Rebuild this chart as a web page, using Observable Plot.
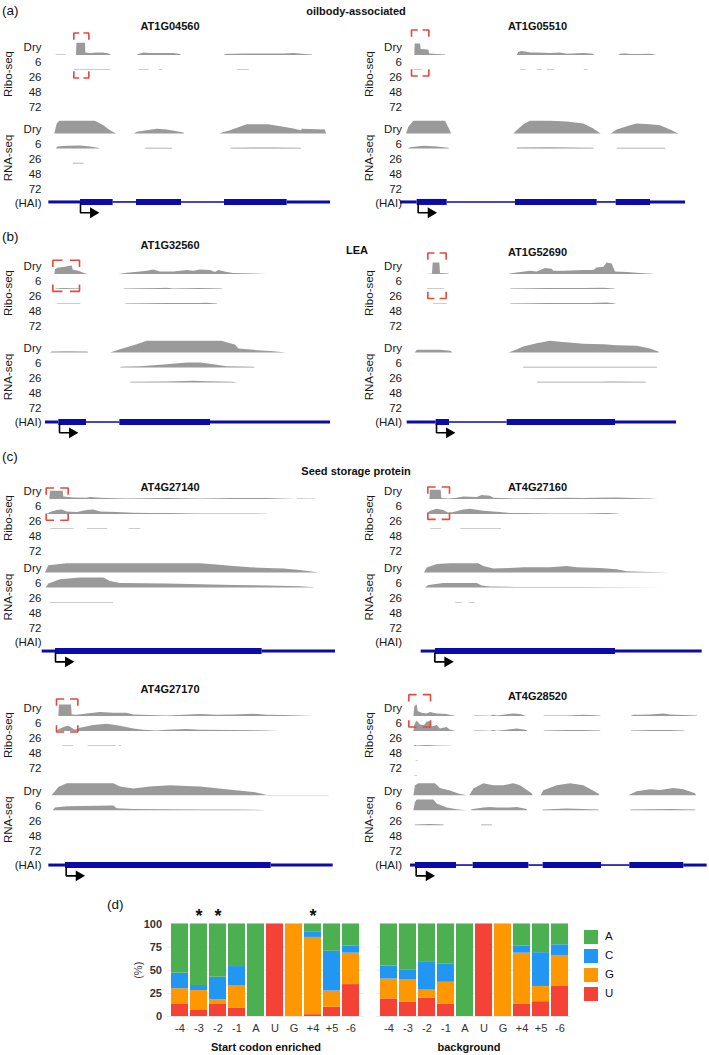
<!DOCTYPE html>
<html><head><meta charset="utf-8">
<script src="https://cdn.jsdelivr.net/npm/d3@7"></script>
<script src="https://cdn.jsdelivr.net/npm/@observablehq/plot@0.6"></script>
<style>
body{margin:0;background:#fff;font-family:"Liberation Sans",Arial,sans-serif;}
#root{position:relative;width:709px;height:1055px;overflow:hidden;background:#fff;}
.pl{position:absolute;}
.lab{position:absolute;white-space:nowrap;color:#111;line-height:1;}
</style></head><body><div id="root"></div>
<script>
// ---------------- DATA ----------------
const geneIds = ["AT1G04560","AT1G05510","AT1G32560","AT1G52690","AT4G27140","AT4G27160","AT4G27170","AT4G28520"];
const timePoints = ["Dry","6","26","48","72"];
const assayNames = ["Ribo-seq","RNA-seq"];
const sectionTitles = ["oilbody-associated","LEA","Seed storage protein"];
const panelLetters = ["(a)","(b)","(c)","(d)"];

// gene models: [start, end, feature] in relative genomic units
const modelAT1G04560 = [[145,240,"UTR"],[240,338,"CDS"],[338,408,"intron"],[408,543,"CDS"],[543,672,"intron"],[672,860,"CDS"],[860,990,"UTR"]];
const modelAT1G05510 = [[150,200,"UTR"],[200,290,"CDS"],[290,495,"intron"],[495,740,"CDS"],[740,797,"intron"],[797,900,"CDS"],[900,1005,"UTR"]];
const modelAT1G32560 = [[135,175,"UTR"],[175,258,"CDS"],[258,358,"intron"],[358,630,"CDS"],[630,990,"UTR"]];
const modelAT1G52690 = [[170,257,"UTR"],[257,297,"CDS"],[297,470,"intron"],[470,795,"CDS"],[795,978,"UTR"]];
const modelAT4G27140 = [[125,165,"UTR"],[165,785,"CDS"],[785,1005,"UTR"]];
const modelAT4G27160 = [[212,255,"UTR"],[255,795,"CDS"],[795,1055,"UTR"]];
const modelAT4G27170 = [[145,195,"UTR"],[195,812,"CDS"],[812,998,"UTR"]];
const modelAT4G28520 = [[180,195,"UTR"],[195,318,"CDS"],[318,368,"intron"],[368,535,"CDS"],[535,578,"intron"],[578,753,"CDS"],[753,838,"intron"],[838,1000,"CDS"],[1000,1070,"UTR"]];

const tssPos = [240,203,177,258,165,253,197,197];
// genomic range of highlighted 5' region
const highlight = [[220,265],[183,235],[157,237],[232,287],[137,203],[232,297],[168,232],[175,240]];

// coverage profiles: [assay, timepoint, [[position, coverage], ...]]
const covAT1G04560 = [
 ["Ribo","Dry",[[165,0],[168,2],[195,2],[198,0],[228,0],[229,37],[255,37],[256,8],[270,6],[290,8],[310,8],[328,4],[332,0],[410,0],[415,3],[430,8],[450,6],[480,6],[520,6],[540,3],[543,0],[672,0],[675,3],[700,4],[750,5],[800,5],[850,5],[880,6],[905,4],[935,2],[937,0]]],
 ["Ribo","6",[[220,0],[222,2],[330,2],[332,0],[415,0],[417,2],[445,2],[447,0],[475,0],[477,2],[485,2],[487,0],[710,0],[712,2],[745,2],[747,0]]],
 ["RNA","Dry",[[163,0],[170,30],[178,38],[285,38],[310,25],[330,10],[348,0],[402,0],[410,5],[440,10],[470,14],[500,12],[530,7],[550,3],[553,0],[660,0],[665,3],[690,10],[740,28],[805,28],[850,20],[880,15],[903,10],[905,14],[975,12],[978,0]]],
 ["RNA","6",[[168,0],[172,6],[200,8],[240,9],[270,6],[295,2],[300,0],[435,0],[437,2],[515,2],[517,0],[690,0],[692,2],[760,3],[820,3],[900,2],[905,0]]],
 ["RNA","26",[[218,0],[220,2],[250,2],[252,0]]]
];
const covAT1G05510 = [
 ["Ribo","Dry",[[193,0],[194,35],[210,35],[212,18],[235,17],[237,5],[260,3],[285,2],[287,0],[500,0],[505,10],[515,12],[530,10],[540,8],[560,8],[600,6],[630,8],[650,4],[700,6],[730,4],[732,0],[805,0],[810,4],[825,5],[840,3],[870,3],[900,4],[915,2],[917,0]]],
 ["Ribo","6",[[190,0],[192,2],[215,2],[217,0],[510,0],[512,2],[525,2],[527,0],[560,0],[562,2],[575,2],[577,0],[590,0],[592,2],[610,2],[612,0],[700,0],[702,2],[712,2],[714,0]]],
 ["RNA","Dry",[[168,0],[175,20],[190,38],[285,38],[300,8],[303,0],[490,0],[500,10],[520,28],[540,38],[600,38],[650,36],[700,30],[730,15],[752,0],[782,0],[800,12],[840,25],[860,30],[900,28],[930,25],[960,12],[985,0]]],
 ["RNA","6",[[175,0],[180,4],[220,8],[260,6],[295,2],[297,0],[500,0],[502,3],[600,4],[730,2],[732,0],[800,0],[802,2],[945,2],[947,0]]]
];
const covAT1G32560 = [
 ["Ribo","Dry",[[163,0],[165,15],[175,20],[195,22],[205,24],[215,26],[218,14],[235,10],[250,4],[262,0],[355,0],[380,4],[420,8],[440,10],[460,14],[480,8],[520,8],[560,12],[580,10],[600,14],[630,12],[645,6],[655,12],[665,10],[680,6],[700,3],[760,2],[800,0]]],
 ["Ribo","6",[[165,0],[168,2],[190,3],[240,2],[242,0],[370,0],[372,2],[480,3],[500,4],[520,2],[600,3],[665,2],[667,0]]],
 ["Ribo","26",[[170,0],[172,2],[240,2],[242,0],[375,0],[377,2],[500,3],[600,3],[620,4],[650,2],[652,0]]],
 ["RNA","Dry",[[150,0],[155,3],[200,4],[262,3],[265,0],[330,0],[360,10],[410,25],[440,35],[665,35],[690,28],[705,24],[715,12],[760,8],[820,4],[858,0]]],
 ["RNA","6",[[360,0],[362,2],[420,4],[500,10],[560,15],[600,15],[640,10],[680,4],[760,2],[765,0]]],
 ["RNA","26",[[390,0],[392,2],[500,3],[580,5],[620,4],[700,2],[712,0]]]
];
const covAT1G52690 = [
 ["Ribo","Dry",[[228,0],[246,2],[248,35],[268,35],[270,3],[295,2],[297,0],[475,0],[480,2],[500,5],[540,10],[560,8],[585,18],[605,16],[610,10],[640,10],[700,12],[730,12],[740,20],[760,22],[770,35],[785,32],[795,8],[830,6],[870,3],[910,1],[912,0]]],
 ["Ribo","6",[[230,0],[232,2],[280,2],[282,0],[480,0],[482,2],[600,3],[700,3],[760,4],[790,2],[797,0]]],
 ["Ribo","26",[[248,0],[250,2],[290,2],[292,0],[480,0],[482,2],[600,3],[720,3],[770,5],[795,2],[797,0]]],
 ["RNA","Dry",[[195,0],[200,8],[270,8],[300,5],[308,0],[475,0],[490,5],[520,18],[560,28],[600,35],[630,32],[700,26],[760,25],[800,22],[860,20],[900,12],[925,3],[927,0]]],
 ["RNA","6",[[518,0],[520,2],[920,2],[922,0]]],
 ["RNA","26",[[560,0],[562,2],[750,2],[780,3],[886,2],[888,0]]]
];
const covAT4G27140 = [
 ["Ribo","Dry",[[148,0],[150,25],[188,25],[190,8],[220,5],[260,4],[270,6],[300,4],[380,2],[500,3],[600,2],[700,3],[800,3],[870,1],[880,0],[890,0],[892,2],[945,1],[948,0]]],
 ["Ribo","6",[[140,0],[150,6],[170,12],[185,14],[200,8],[230,6],[260,12],[280,14],[300,8],[350,6],[400,4],[450,3],[500,3],[600,2],[700,2],[800,1],[802,0]]],
 ["Ribo","26",[[150,0],[152,2],[220,2],[222,0],[260,0],[262,2],[320,2],[322,0],[385,0],[387,2],[420,2],[422,0]]],
 ["RNA","Dry",[[135,0],[145,22],[200,28],[400,28],[600,28],[650,24],[700,20],[750,16],[800,14],[850,12],[900,8],[945,2],[955,0]]],
 ["RNA","6",[[137,0],[145,12],[180,25],[240,30],[310,30],[330,20],[360,14],[500,12],[600,10],[700,8],[800,6],[900,4],[940,1],[942,0]]],
 ["RNA","26",[[148,0],[150,2],[338,2],[340,0]]]
];
const covAT4G27160 = [
 ["Ribo","Dry",[[238,0],[240,28],[272,28],[274,3],[295,2],[320,4],[340,8],[380,6],[395,12],[420,10],[430,4],[500,2],[600,3],[650,4],[700,3],[740,4],[800,5],[850,3],[900,2],[925,0]]],
 ["Ribo","6",[[230,0],[240,10],[260,16],[280,12],[295,4],[310,6],[340,14],[360,16],[400,10],[450,6],[480,3],[520,3],[600,2],[700,2],[770,3],[800,2],[810,0]]],
 ["Ribo","26",[[240,0],[242,2],[272,2],[274,0],[330,0],[332,2],[452,2],[454,0]]],
 ["RNA","Dry",[[222,0],[230,15],[260,26],[300,28],[385,28],[400,20],[430,12],[480,14],[520,16],[600,16],[650,20],[680,16],[750,14],[800,10],[830,4],[900,2],[962,0]]],
 ["RNA","6",[[225,0],[235,8],[280,14],[380,14],[395,6],[420,3],[500,2],[700,2],[800,1],[952,0]]],
 ["RNA","26",[[315,0],[317,2],[335,2],[337,0],[355,0],[357,2],[372,2],[374,0]]]
];
const covAT4G27170 = [
 ["Ribo","Dry",[[175,0],[177,35],[213,35],[215,5],[230,4],[260,8],[300,12],[340,10],[380,10],[400,5],[450,3],[500,2],[600,6],[650,4],[700,5],[760,7],[800,4],[850,3],[900,2],[940,0]]],
 ["Ribo","6",[[168,0],[180,8],[195,14],[205,16],[215,10],[225,4],[240,10],[280,18],[320,22],[360,16],[400,8],[430,4],[470,2],[500,4],[560,6],[600,4],[700,3],[800,2],[835,0]]],
 ["Ribo","26",[[185,0],[187,2],[218,2],[220,0],[262,0],[264,2],[345,2],[347,0],[355,0],[357,2],[362,2],[364,0]]],
 ["RNA","Dry",[[155,0],[175,25],[200,36],[340,36],[360,26],[400,20],[450,26],[510,30],[560,28],[600,26],[700,16],[760,10],[795,2],[800,1],[985,1],[987,0]]],
 ["RNA","6",[[158,0],[165,8],[200,12],[340,14],[350,6],[400,4],[500,3],[600,2],[700,2],[790,1],[792,0]]]
];
const covAT4G28520 = [
 ["Ribo","Dry",[[190,0],[193,30],[200,35],[203,15],[215,10],[230,8],[240,12],[260,8],[290,6],[300,3],[315,1],[317,0],[370,0],[372,2],[400,2],[420,1],[430,4],[440,2],[460,4],[490,8],[510,6],[525,2],[527,0],[580,0],[582,2],[650,2],[700,4],[750,2],[752,0],[842,0],[850,4],[870,4],[900,5],[940,8],[960,5],[1000,3],[1040,2],[1042,0]]],
 ["Ribo","6",[[190,0],[193,20],[200,32],[210,20],[222,18],[230,28],[240,30],[245,14],[260,18],[270,8],[290,12],[300,4],[315,1],[317,0],[370,0],[372,2],[400,2],[420,1],[430,3],[440,1],[470,4],[500,8],[530,3],[532,0],[580,0],[582,2],[650,3],[700,3],[750,2],[752,0],[842,0],[844,2],[900,3],[960,3],[1000,2],[1005,0]]],
 ["Ribo","26",[[190,0],[195,4],[200,2],[230,3],[260,2],[300,1],[302,0]]],
 ["Ribo","48",[[196,0],[198,2],[202,2],[204,0]]],
 ["Ribo","72",[[192,0],[194,2],[200,2],[202,0]]],
 ["RNA","Dry",[[190,0],[195,30],[205,36],[255,36],[270,22],[300,14],[325,5],[350,0],[358,0],[370,20],[400,36],[430,30],[460,30],[490,36],[510,30],[545,6],[548,0],[572,0],[580,15],[620,30],[660,36],[700,30],[745,5],[748,0],[835,0],[860,12],[900,18],[930,16],[970,22],[1000,18],[1035,6],[1038,0]]],
 ["RNA","6",[[190,0],[195,25],[200,32],[250,32],[260,20],[290,8],[320,3],[350,0],[362,0],[365,3],[400,8],[420,10],[440,8],[480,8],[500,10],[530,4],[532,0],[575,0],[580,2],[650,5],[700,4],[745,2],[747,0],[840,0],[842,2],[900,3],[960,4],[1035,2],[1037,0]]],
 ["RNA","26",[[193,0],[195,2],[240,4],[280,2],[282,0],[392,0],[394,2],[425,2],[427,0]]]
];
const models = [modelAT1G04560,modelAT1G05510,modelAT1G32560,modelAT1G52690,modelAT4G27140,modelAT4G27160,modelAT4G27170,modelAT4G28520];
const coverages = [covAT1G04560,covAT1G05510,covAT1G32560,covAT1G52690,covAT4G27140,covAT4G27160,covAT4G27170,covAT4G28520];

// panel (d): nucleotide composition (%) around start codon
const positions = ["-4","-3","-2","-1","A","U","G","+4","+5","-6"];
const bases = ["A","C","G","U"];
const baseColors = ["#4CAF50","#2196F3","#FF9800","#F44336"];
const enrichedA = [53,66.5,57.5,46,100,0,0,9,29.5,24];
const enrichedC = [17,5.5,24.5,20.5,0,0,0,5.5,43,7.5];
const enrichedG = [17,21.5,5,24.5,0,0,100,83.5,17.5,34];
const enrichedU = [13,6.5,13,9,0,100,0,2,10,34.5];
const backgroundA = [45.5,49.5,41.5,43.5,100,0,0,24,31,22.5];
const backgroundC = [14,10.5,30,19.5,0,0,0,7.5,36.5,11.5];
const backgroundG = [21.5,24.5,8.5,23.5,0,0,100,55,16.5,33.5];
const backgroundU = [19,15.5,20,13.5,0,100,0,13.5,16,32.5];
const significant = ["-3","-2","+4"];
const barCaptions = ["Start codon enriched","background"];

// ---------------- LAYOUT ----------------
const root = document.getElementById("root");
const FONT = "'Liberation Sans', Arial, sans-serif";
const panels = {
  a: {p0: 38.5, rnaStart: 6.0, haiU: 10.9, geneU: 10.83},
  b: {p0: 258.2, rnaStart: 6.0, haiU: 10.9, geneU: 10.9},
  c1: {p0: 483.2, rnaStart: 5.67, haiU: 10.6, geneU: 11.17},
  c2: {p0: 699.5, rnaStart: 6.05, haiU: 10.97, geneU: 10.97}
};
const cols = [
  {left: 0, width: 350, marginLeft: 44, titleX: 169.5, rotX: 7.5},
  {left: 350, width: 359, marginLeft: 54.5, titleX: 187, rotX: 18.5}
];
const geneLayout = [
  {col:0, panel:"a", titleU:-0.9, brU:[-0.43,2.57]},
  {col:1, panel:"a", titleU:-0.9, brU:[-0.63,2.43]},
  {col:0, panel:"b", titleU:-0.88, brU:[0.12,2.19]},
  {col:1, panel:"b", titleU:-0.41, brU:[-0.37,2.67]},
  {col:0, panel:"c1", titleU:0.25, brU:[0.3,2.45]},
  {col:1, panel:"c1", titleU:0.25, brU:[0.23,2.39]},
  {col:0, panel:"c2", titleU:-0.75, brU:[-0.1,2.1]},
  {col:1, panel:"c2", titleU:-0.3, brU:[-0.39,1.77]}
];
const ROW = 15, UMIN = -1.6, UMAX = 12.2;
const GENE_BLUE = "#0b0ba8", COV_GRAY = "#9a9a9a", BR_RED = "#e5483d";

function genePlot(i) {
  const L = geneLayout[i], P = panels[L.panel], C = cols[L.col];
  const H = (UMAX - UMIN) * ROW;
  const baseOf = (assay, tp) => assay === "Ribo" ? timePoints.indexOf(tp) + 1.07 : P.rnaStart + timePoints.indexOf(tp) + 0.3;
  const area = [];
  for (const [assay, tp, pts] of coverages[i]) {
    const b = baseOf(assay, tp);
    for (const [x, h] of pts) area.push({x, b, t: b - h / 45, key: assay + tp});
  }
  const labels = [
    ...timePoints.map((t, k) => ({u: 0.5 + k, t})),
    ...timePoints.map((t, k) => ({u: P.rnaStart + k, t})),
    {u: P.haiU, t: "(HAI)"}
  ];
  const groups = [{u: 2.3, t: assayNames[0]}, {u: P.rnaStart + 1.9, t: assayNames[1]}];
  const feat = models[i].map(([x1, x2, type]) => ({x1, x2, type}));
  const tss = tssPos[i], au = P.geneU + 0.72;
  const arrowPath = [{x: tss, u: P.geneU + 0.1}, {x: tss, u: au}, {x: tss + 36, u: au}];
  const arrowTip = [{x: tss + 38, u: au}];
  const [bx1, bx2] = highlight[i], [bu1, bu2] = L.brU;
  const ax = (bx2 - bx1) * 0.36, av = 0.45;
  const corners = [
    [[bx1, bu1 + av], [bx1, bu1], [bx1 + ax, bu1]],
    [[bx2 - ax, bu1], [bx2, bu1], [bx2, bu1 + av]],
    [[bx1, bu2 - av], [bx1, bu2], [bx1 + ax, bu2]],
    [[bx2 - ax, bu2], [bx2, bu2], [bx2, bu2 - av]]
  ].flatMap((c, k) => c.map(([x, u]) => ({x, u, k})));
  const rule = (type, w) => Plot.ruleY(feat.filter(f => f.type === type), {x1: "x1", x2: "x2", y: () => P.geneU, stroke: GENE_BLUE, strokeWidth: w, strokeLinecap: "butt"});
  const svg = Plot.plot({
    width: C.width, height: H,
    marginLeft: C.marginLeft, marginRight: 0, marginTop: 0, marginBottom: 0,
    x: {domain: [0, C.width * 3], range: [0, C.width], axis: null},
    y: {domain: [UMIN, UMAX], range: [0, H], axis: null},
    style: {fontFamily: FONT, background: "transparent", overflow: "visible", color: "#111"},
    marks: [
      Plot.areaY(area, {x: "x", y1: "b", y2: "t", z: "key", fill: COV_GRAY}),
      rule("intron", 1.6),
      rule("UTR", 3),
      rule("CDS", 6),
      Plot.line(arrowPath, {x: "x", y: "u", stroke: "#000", strokeWidth: 1.6, strokeLinejoin: "miter", strokeLinecap: "butt"}),
      Plot.dot(arrowTip, {x: "x", y: "u", symbol: "triangle", rotate: 90, r: 4, fill: "#000", stroke: null}),
      Plot.line(corners, {x: "x", y: "u", z: "k", stroke: BR_RED, strokeWidth: 1.6, strokeLinejoin: "miter", strokeLinecap: "butt"}),
      Plot.text(labels, {y: "u", text: "t", frameAnchor: "left", dx: -3, textAnchor: "end", fontSize: 11.5, fill: "#1a1a1a"}),
      Plot.text(groups, {y: "u", text: "t", frameAnchor: "left", dx: C.rotX - C.marginLeft, rotate: -90, textAnchor: "middle", fontSize: 11.5, fill: "#1a1a1a"}),
      Plot.text([geneIds[i]], {text: d => d, y: () => L.titleU, frameAnchor: "left", dx: C.titleX - C.marginLeft, textAnchor: "middle", fontWeight: "bold", fontSize: 11, fill: "#111"})
    ]
  });
  const div = document.createElement("div");
  div.className = "pl";
  div.style.left = C.left + "px";
  div.style.top = (P.p0 + UMIN * ROW) + "px";
  div.appendChild(svg);
  root.appendChild(div);
}
geneIds.forEach((_, i) => genePlot(i));

// ---- panel (d) ----
function barPlot(A, Cc, G, U, opt) {
  const series = {A, C: Cc, G, U};
  const rows = [];
  positions.forEach((p, i) => {
    ["U", "G", "C", "A"].forEach(b => { if (series[b][i] > 0) rows.push({pos: p, base: b, value: series[b][i]}); });
  });
  const marks = [
    Plot.gridY([0, 25, 50, 75, 100], {stroke: "#e6e6e6", strokeOpacity: 1, strokeWidth: 0.8}),
    Plot.barY(rows, {x: "pos", y: "value", fill: "base"}),
    Plot.axisX({tickSize: 0, tickPadding: 8, fontSize: 11, fill: "#333", label: null})
  ];
  if (opt.yAxis) {
    marks.push(Plot.axisY({ticks: [0, 25, 50, 75, 100], tickSize: 0, tickPadding: 5, fontSize: 11, fontWeight: "bold", fill: "#333", label: null}));
    marks.push(Plot.text(["(%)"], {text: d => d, frameAnchor: "left", dx: -28.5, rotate: -90, textAnchor: "middle", fontSize: 11, fill: "#333"}));
  }
  if (opt.stars) marks.push(Plot.text(opt.stars, {x: d => d, y: () => 100, text: () => "*", dy: -8, fontSize: 18, fontWeight: "bold", fill: "#111"}));
  const svg = Plot.plot({
    width: opt.width, height: 160,
    marginLeft: opt.marginLeft, marginRight: 4, marginTop: 28.5, marginBottom: 39,
    x: {domain: positions, paddingInner: 0.11, paddingOuter: 0.05, axis: null},
    y: {domain: [0, 100], axis: null},
    color: {domain: bases, range: baseColors},
    style: {fontFamily: FONT, background: "transparent", overflow: "visible", color: "#333"},
    marks
  });
  const div = document.createElement("div");
  div.className = "pl";
  div.style.left = opt.left + "px";
  div.style.top = "895px";
  div.appendChild(svg);
  root.appendChild(div);
}
barPlot(enrichedA, enrichedC, enrichedG, enrichedU, {left: 100, width: 268, marginLeft: 66.5, yAxis: true, stars: significant});
barPlot(backgroundA, backgroundC, backgroundG, backgroundU, {left: 370, width: 205, marginLeft: 6.5, yAxis: false});

// ---- HTML text ----
function label(text, x, y, o = {}) {
  const d = document.createElement("div");
  d.className = "lab";
  d.textContent = text;
  d.style.left = x + "px";
  d.style.top = y + "px";
  d.style.fontSize = (o.size || 11) + "px";
  if (o.bold) d.style.fontWeight = "bold";
  d.style.transform = o.middle ? "translate(-50%,-50%)" : "translate(0,-50%)";
  root.appendChild(d);
}
label(panelLetters[0], 2, 10.5, {size: 13.5});
label(panelLetters[1], 2, 236.5, {size: 13.5});
label(panelLetters[2], 2, 457, {size: 13.5});
label(panelLetters[3], 107, 905, {size: 13.5});
label(sectionTitles[0], 356, 10.5, {bold: true, middle: true});
label(sectionTitles[1], 357, 250, {bold: true, middle: true});
label(sectionTitles[2], 356, 470.5, {bold: true, middle: true});
label(barCaptions[0], 266, 1047, {bold: true, middle: true});
label(barCaptions[1], 469, 1047, {bold: true, middle: true});

// legend
bases.forEach((b, k) => {
  const sw = document.createElement("div");
  sw.style.cssText = `position:absolute;left:584px;top:${930 + k * 19}px;width:14px;height:14px;background:${baseColors[k]};`;
  root.appendChild(sw);
  label(b, 605, 937 + k * 19, {size: 11.5});
});
</script></body></html>
